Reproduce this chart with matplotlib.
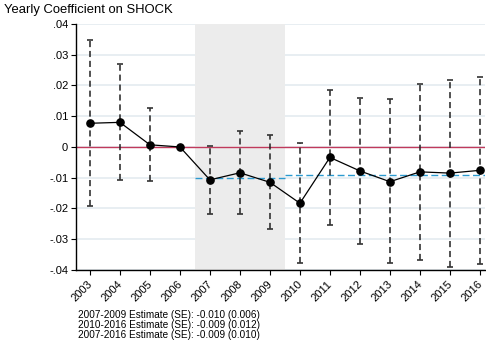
import numpy as np
import matplotlib.pyplot as plt
import matplotlib.transforms as mtransforms

plt.rcParams['font.family'] = ['Liberation Sans', 'DejaVu Sans']

# yearly coefficients and 95% CI bounds
years = np.arange(2003, 2017)
coef = [0.0077, 0.0080, 0.0007, 0.0, -0.0107, -0.0084, -0.0115,
        -0.0183, -0.0034, -0.0078, -0.0113, -0.0081, -0.0085, -0.0076]
upper = [0.0347, 0.0269, 0.0126, np.nan, 0.0004, 0.0052, 0.0038,
         0.0013, 0.0186, 0.0158, 0.0155, 0.0204, 0.0218, 0.0228]
lower = [-0.0191, -0.0106, -0.0111, np.nan, -0.0219, -0.0219, -0.0268,
         -0.0376, -0.0254, -0.0315, -0.0378, -0.0366, -0.0389, -0.0382]

# pooled estimates
est_0709 = -0.010
est_1016 = -0.009
notes = ["2007-2009 Estimate (SE): -0.010 (0.006)",
         "2010-2016 Estimate (SE): -0.009 (0.012)",
         "2007-2016 Estimate (SE): -0.009 (0.010)"]

yticks = [-0.04, -0.03, -0.02, -0.01, 0, 0.01, 0.02, 0.03, 0.04]
ytick_labels = ["-.04", "-.03", "-.02", "-.01", "0", ".01", ".02", ".03", ".04"]

fig = plt.figure(figsize=(4.86, 3.47), dpi=100)
ax = fig.add_axes([0.156, 0.222, 0.842, 0.709])

xmin, xmax = 2002.53, 2016.17
ax.set_xlim(xmin, xmax)
ax.set_ylim(-0.04, 0.04)

# gridlines
for y in yticks:
    ax.axhline(y, color='#e6edf1', lw=1.3, zorder=0)

# shaded crisis period
ax.axvspan(2006.5, 2009.5, color='#ececec', zorder=0.5, lw=0)

# zero line
ax.axhline(0, color='#c03a5c', lw=1.0, zorder=1)

# pooled estimate lines
ax.plot([2006.5, 2009.5], [est_0709, est_0709], color='#2b9ad0', lw=1.0,
        ls=(0, (5, 2.5)), zorder=1)
ax.plot([2009.5, xmax], [est_1016, est_1016], color='#2b9ad0', lw=1.0,
        ls=(0, (5, 2.5)), zorder=1)

# confidence intervals
ax.vlines(years, lower, upper, colors='#222222', linestyles=(0, (4, 2.5)), lw=1.1, zorder=2)
ax.plot(years, upper, ls='none', marker='_', ms=4.5, mew=1.2, color='#333333', zorder=2)
ax.plot(years, lower, ls='none', marker='_', ms=4.5, mew=1.2, color='#333333', zorder=2)

# coefficients
ax.plot(years, coef, color='black', lw=0.9, marker='o', ms=5.2, zorder=3)

for s in ['top', 'right']:
    ax.spines[s].set_visible(False)
ax.spines['left'].set_linewidth(1.0)
ax.spines['bottom'].set_linewidth(1.0)

ax.set_yticks(yticks)
ax.set_yticklabels(ytick_labels)
ax.set_xticks(years)
ax.set_xticklabels([str(y) for y in years], rotation=45, ha='right', va='top',
                   rotation_mode='anchor')
ax.tick_params(axis='both', labelsize=8.0, length=3.5, width=0.8, pad=2)
ax.tick_params(axis='x', pad=3)
shift = mtransforms.ScaledTranslation(-2 / 72, 0, fig.dpi_scale_trans)
for lbl in ax.get_xticklabels():
    lbl.set_transform(lbl.get_transform() + shift)

fig.text(0.008, 0.955, "Yearly Coefficient on SHOCK", fontsize=9.4, va='bottom')

for i, line in enumerate(notes):
    fig.text(0.161, 1 - (315.5 + 10 * i) / 347, line, fontsize=7.2, va='center')

fig.savefig("out.png", dpi=100)
